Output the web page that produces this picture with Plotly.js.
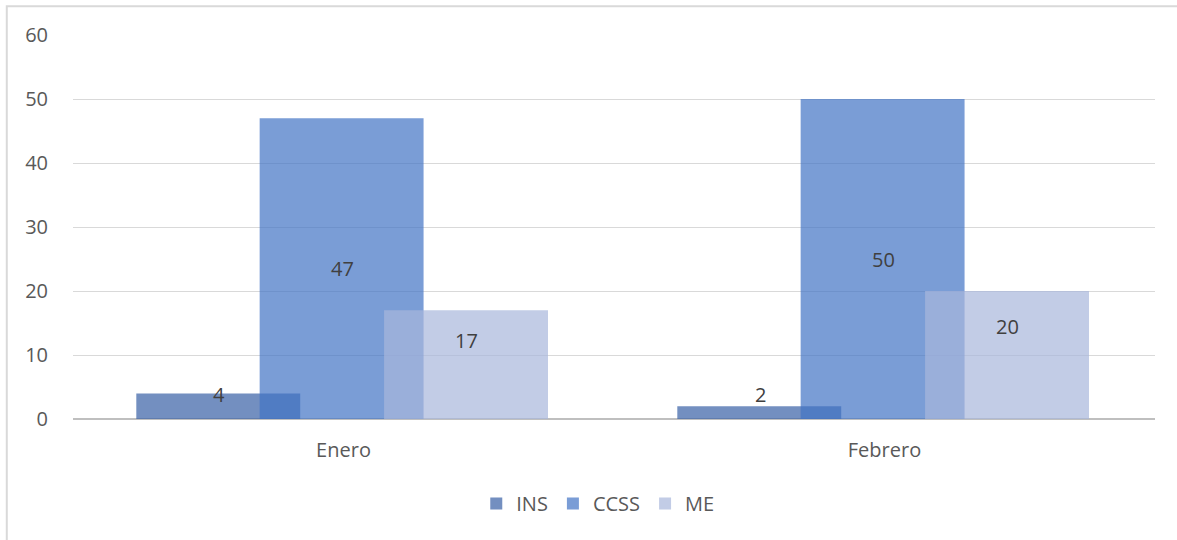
<!DOCTYPE html>
<html><head><meta charset="utf-8">
<script src="https://cdn.plot.ly/plotly-3.0.1.min.js"></script>
<style>html,body{margin:0;padding:0;background:#fff}</style>
</head><body><div id="chart" style="width:1177px;height:540px"></div>
<script>
const categories = ["Enero", "Febrero"];
const insValues = [4, 2];
const ccssValues = [47, 50];
const meValues = [17, 20];
const seriesNames = ["INS", "CCSS", "ME"];

const fam = "'Open Sans', 'Noto Sans', sans-serif";
const font = {family: fam, size: 20, color: "#595959"};
const W = 0.303;
function bar(name, vals, color, offset) {
  return {type: "bar", name: name, x: categories, y: vals, width: W, offset: offset,
    marker: {color: color, line: {width: 0}}, hoverinfo: "x+y+name"};
}
const data = [
  bar(seriesNames[0], insValues, "rgba(56,96,165,0.7)", -0.383),
  bar(seriesNames[1], ccssValues, "rgba(66,115,196,0.7)", -0.155),
  bar(seriesNames[2], meValues, "rgba(168,182,219,0.7)", 0.075)
];
const lblFont = {family: fam, size: 20, color: "#404040"};
const insLabelY = Math.max(...insValues);
const annotations = [];
categories.forEach((c, i) => {
  annotations.push({x: c, y: insLabelY, xref: "x", yref: "y", text: String(insValues[i]), showarrow: false, xshift: -0.23*541, yshift: -1, font: lblFont});
  annotations.push({x: c, y: ccssValues[i] / 2, xref: "x", yref: "y", text: String(ccssValues[i]), showarrow: false, xshift: -1, font: lblFont});
  annotations.push({x: c, y: meValues[i] * 0.75, xref: "x", yref: "y", text: String(meValues[i]), showarrow: false, xshift: 0.228*541, yshift: -3, font: lblFont});
});
const layout = {
  width: 1177, height: 540,
  margin: {l: 73, r: 22, t: 35, b: 121},
  paper_bgcolor: "#fff", plot_bgcolor: "#fff",
  barmode: "overlay",
  font: font,
  showlegend: true,
  legend: {orientation: "h", x: 0.485, xanchor: "center", y: -0.22, yanchor: "middle", font: font, traceorder: "normal", itemwidth: 30},
  xaxis: {type: "category", range: [-0.5, 1.5], showgrid: false, zeroline: false, showline: false, ticks: "", ticklabelstandoff: 17, tickfont: font},
  yaxis: {range: [0, 60], dtick: 10, tick0: 0, showgrid: true, gridcolor: "#d9d9d9", gridwidth: 1, zeroline: true, zerolinecolor: "#bfbfbf", zerolinewidth: 2, showline: false, ticks: "", ticklabelstandoff: 24, tickfont: font},
  annotations: annotations,
  shapes: [{type: "rect", xref: "paper", yref: "paper", x0: -0.0612, x1: 1.1, y0: -0.4, y1: 1.075, line: {color: "#d9d9d9", width: 2}, fillcolor: "rgba(0,0,0,0)", layer: "below"}]
};
Plotly.newPlot("chart", data, layout, {displayModeBar: false, staticPlot: true});
</script></body></html>
